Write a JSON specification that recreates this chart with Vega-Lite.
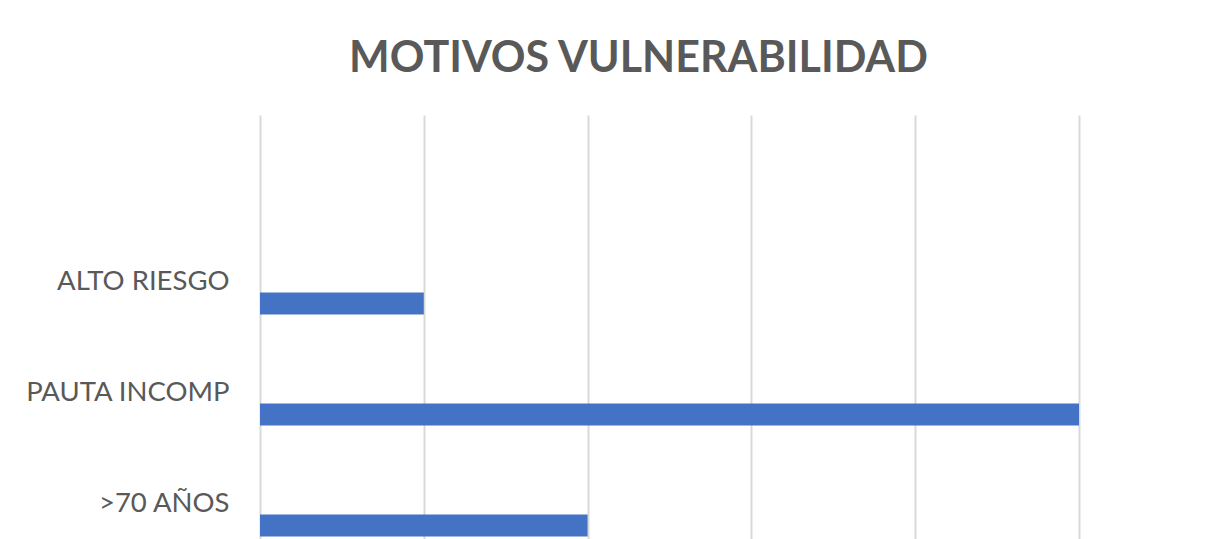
{
  "$schema": "https://vega.github.io/schema/vega-lite/v6.json",
  "autosize": {"type": "none"},
  "width": 819,
  "height": 424,
  "padding": {"left": 260, "top": 115, "right": 150, "bottom": 0},
  "background": "white",
  "title": {
    "text": "MOTIVOS VULNERABILIDAD",
    "font": "Lato",
    "fontSize": 43,
    "fontWeight": "bold",
    "color": "#595959",
    "anchor": "middle",
    "baseline": "alphabetic",
    "offset": 0,
    "dx": -31
  },
  "data": {
    "values": [
      {"motivo": "ALTO RIESGO", "valor": 1},
      {"motivo": "PAUTA INCOMP", "valor": 5},
      {"motivo": ">70 AÑOS", "valor": 2}
    ]
  },
  "mark": {"type": "bar", "color": "#4472C4", "height": 22, "yOffset": 22},
  "encoding": {
    "y": {
      "field": "motivo",
      "type": "nominal",
      "title": null,
      "scale": {
        "domain": ["", "ALTO RIESGO", "PAUTA INCOMP", ">70 AÑOS"],
        "range": [0, 444],
        "paddingInner": 0,
        "paddingOuter": 0
      },
      "axis": {
        "domain": false,
        "ticks": false,
        "grid": false,
        "labelFont": "Lato",
        "labelFontSize": 27.5,
        "labelColor": "#595959",
        "labelPadding": 31,
        "labelLimit": 400
      }
    },
    "x": {
      "field": "valor",
      "type": "quantitative",
      "title": null,
      "scale": {"domain": [0, 5], "nice": false},
      "axis": {
        "orient": "top",
        "values": [0, 1, 2, 3, 4, 5],
        "labels": false,
        "ticks": false,
        "domain": false,
        "grid": true,
        "gridColor": "#d9d9d9",
        "gridWidth": 2
      }
    }
  },
  "config": {"view": {"stroke": null}}
}
